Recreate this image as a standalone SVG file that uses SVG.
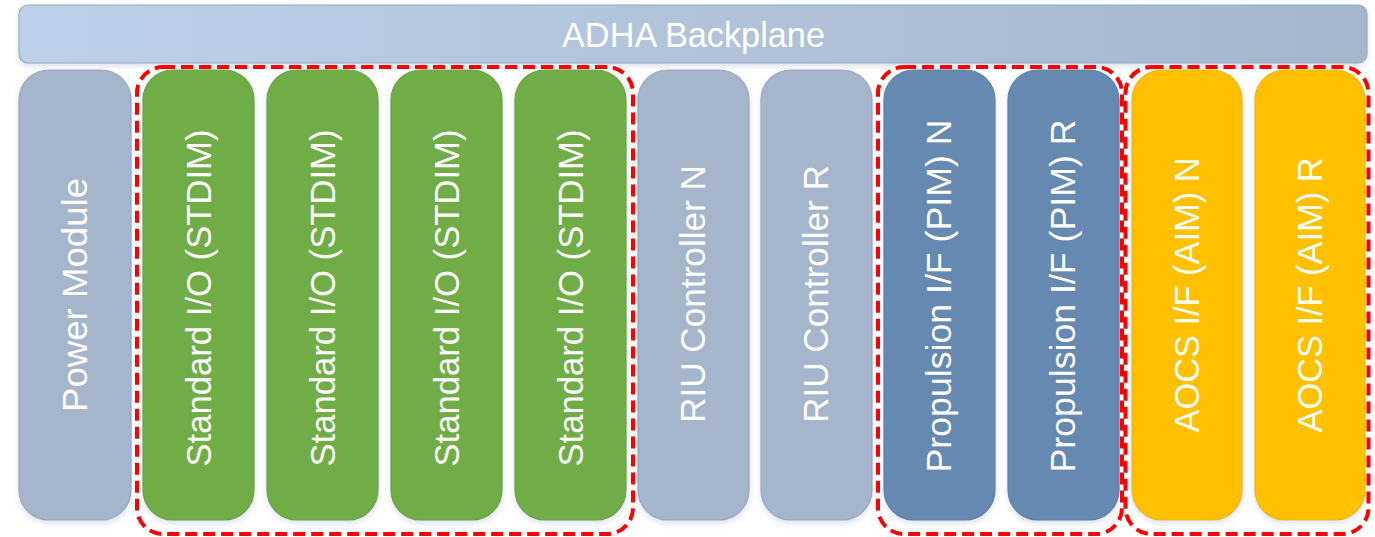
<svg xmlns="http://www.w3.org/2000/svg" width="1375" height="537" viewBox="0 0 1375 537">
<defs>
<linearGradient id="bp" x1="0" y1="0" x2="1" y2="0">
<stop offset="0" stop-color="#BED1EA"/>
<stop offset="1" stop-color="#A5B5CC"/>
</linearGradient>
<filter id="sh" x="-20%" y="-10%" width="140%" height="120%">
<feDropShadow dx="0" dy="3" stdDeviation="3" flood-color="#8FA0C0" flood-opacity="0.3"/>
</filter>
</defs>
<style>
.m{stroke-width:1.2;filter:url(#sh)}
.gray{fill:#A5B5CC;stroke:#98A8C0}
.green{fill:#70AD47;stroke:#6AA443}
.blue{fill:#6689B2;stroke:#5F80A8}
.yellow{fill:#FFC000;stroke:#F2B600}
.t{font-family:"Liberation Sans",Arial,sans-serif;font-size:35px;fill:#FFFFFF;text-anchor:middle}
.grp{fill:none;stroke:#FF0000;stroke-width:4;stroke-dasharray:12 6}
</style>
<rect width="1375" height="537" fill="#FFFFFF"/>
<g id="backplane">
<rect x="19" y="5" width="1348" height="58" rx="9" fill="url(#bp)" stroke="#98A8C0" stroke-width="1.2" filter="url(#sh)"/>
<text class="t" x="693.5" y="47" textLength="263" lengthAdjust="spacingAndGlyphs">ADHA Backplane</text>
</g>
<g id="power">
<rect class="m gray" x="19" y="70" width="112" height="450" rx="30"/>
<text class="t" transform="translate(87,295) rotate(-90)" textLength="234" lengthAdjust="spacingAndGlyphs">Power Module</text>
</g>
<g id="stdim1">
<rect class="m green" x="143" y="70" width="111" height="450" rx="30"/>
<text class="t" transform="translate(211,298) rotate(-90)" textLength="337" lengthAdjust="spacingAndGlyphs">Standard I/O (STDIM)</text>
</g>
<g id="stdim2">
<rect class="m green" x="267" y="70" width="111" height="450" rx="30"/>
<text class="t" transform="translate(335,298) rotate(-90)" textLength="337" lengthAdjust="spacingAndGlyphs">Standard I/O (STDIM)</text>
</g>
<g id="stdim3">
<rect class="m green" x="391" y="70" width="111" height="450" rx="30"/>
<text class="t" transform="translate(459,298) rotate(-90)" textLength="337" lengthAdjust="spacingAndGlyphs">Standard I/O (STDIM)</text>
</g>
<g id="stdim4">
<rect class="m green" x="515" y="70" width="111" height="450" rx="30"/>
<text class="t" transform="translate(583,298) rotate(-90)" textLength="337" lengthAdjust="spacingAndGlyphs">Standard I/O (STDIM)</text>
</g>
<g id="riu-n">
<rect class="m gray" x="638" y="70" width="111" height="450" rx="30"/>
<text class="t" transform="translate(705,294) rotate(-90)" textLength="258" lengthAdjust="spacingAndGlyphs">RIU Controller N</text>
</g>
<g id="riu-r">
<rect class="m gray" x="761" y="70" width="111" height="450" rx="30"/>
<text class="t" transform="translate(828,294) rotate(-90)" textLength="258" lengthAdjust="spacingAndGlyphs">RIU Controller R</text>
</g>
<g id="pim-n">
<rect class="m blue" x="884" y="70" width="111" height="450" rx="30"/>
<text class="t" transform="translate(951,296) rotate(-90)" textLength="353" lengthAdjust="spacingAndGlyphs">Propulsion I/F (PIM) N</text>
</g>
<g id="pim-r">
<rect class="m blue" x="1008" y="70" width="111" height="450" rx="30"/>
<text class="t" transform="translate(1075,296) rotate(-90)" textLength="353" lengthAdjust="spacingAndGlyphs">Propulsion I/F (PIM) R</text>
</g>
<g id="aim-n">
<rect class="m yellow" x="1132" y="70" width="110" height="450" rx="30"/>
<text class="t" transform="translate(1199,295) rotate(-90)" textLength="275" lengthAdjust="spacingAndGlyphs">AOCS I/F (AIM) N</text>
</g>
<g id="aim-r">
<rect class="m yellow" x="1255" y="70" width="110" height="450" rx="30"/>
<text class="t" transform="translate(1322,295) rotate(-90)" textLength="275" lengthAdjust="spacingAndGlyphs">AOCS I/F (AIM) R</text>
</g>
<g id="groups">
<rect class="grp" x="137" y="67" width="496" height="467" rx="26"/>
<rect class="grp" x="878" y="67" width="244" height="467" rx="26"/>
<rect class="grp" x="1125.5" y="67" width="243" height="467" rx="26"/>
</g>
</svg>
